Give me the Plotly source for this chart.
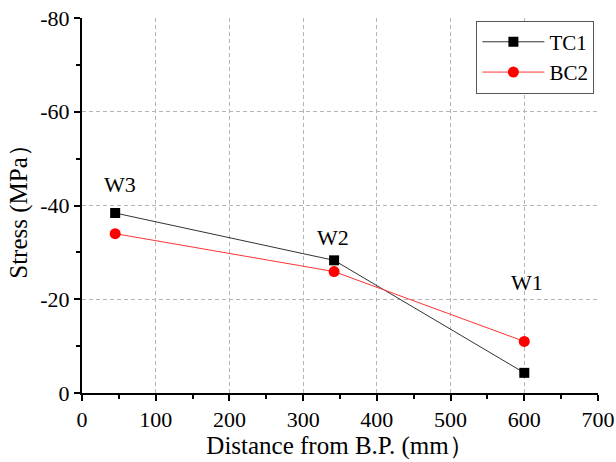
import plotly.graph_objects as go

# Data
distance = [45, 342, 600]
tc1 = [-38.4, -28.3, -4.3]
bc2 = [-34.0, -25.9, -11.0]
labels = ["W3", "W2", "W1"]
label_x = [52, 341, 604]
label_y = [-44.4, -33.1, -23.5]
xticks = [0, 100, 200, 300, 400, 500, 600, 700]
yticks = [0, -20, -40, -60, -80]
yticktext = ["0", "-20", "-40", "-60", "-80"]

FONT = "Liberation Serif"

fig = go.Figure()
fig.add_trace(go.Scatter(
    x=distance, y=tc1, name="TC1", mode="lines+markers",
    line=dict(color="#333333", width=1),
    marker=dict(symbol="square", size=10, color="black"),
))
fig.add_trace(go.Scatter(
    x=distance, y=bc2, name="BC2", mode="lines+markers",
    line=dict(color="#ff3333", width=1),
    marker=dict(symbol="circle", size=11, color="#ff0000"),
))

for t, xx, yy in zip(labels, label_x, label_y):
    fig.add_annotation(x=xx, y=yy, text=t, showarrow=False,
                       font=dict(family=FONT, size=22, color="black"),
                       xanchor="center", yanchor="middle")

grid = dict(showgrid=True, gridcolor="#b4b4b4", griddash="4px,3px", gridwidth=1)

fig.update_xaxes(
    range=[0, 700], tickvals=xticks, ticktext=[str(v) for v in xticks],
    showline=True, linecolor="black", linewidth=2,
    ticks="outside", ticklen=6, tickwidth=2, tickcolor="black",
    minor=dict(dtick=50, tick0=0, ticks="outside", ticklen=4, tickwidth=2,
               tickcolor="black", showgrid=False),
    tickfont=dict(family=FONT, size=22, color="black"),
    ticklabeloverflow="allow",
    title=dict(text="Distance from B.P. (mm\uff09",
               font=dict(family=FONT, size=25, color="black"), standoff=4),
    zeroline=False, automargin=False, **grid,
)
fig.update_yaxes(
    range=[0, -80], tickvals=yticks, ticktext=yticktext,
    showline=True, linecolor="black", linewidth=2,
    ticks="outside", ticklen=6, tickwidth=2, tickcolor="black",
    minor=dict(dtick=10, tick0=0, ticks="outside", ticklen=4, tickwidth=2,
               tickcolor="black", showgrid=False),
    tickfont=dict(family=FONT, size=22, color="black"),
    ticklabeloverflow="allow",
    title=dict(text="Stress (MPa\uff09",
               font=dict(family=FONT, size=25, color="black"), standoff=6),
    zeroline=False, automargin=False, **grid,
)

fig.update_layout(
    width=616, height=462,
    margin=dict(l=82, r=18, t=18, b=69),
    plot_bgcolor="white", paper_bgcolor="white",
    font=dict(family=FONT, color="black"),
    legend=dict(x=0.993, y=0.993, xanchor="right", yanchor="top",
                bordercolor="#555555", borderwidth=1, bgcolor="white",
                font=dict(family=FONT, size=21, color="black"),
                itemwidth=62, tracegroupgap=0),
    showlegend=True,
)

# remove the page's default body margin so the figure fills the window exactly
fig.write_html("out.html", post_script="document.body.style.margin='0';",
               config={"displayModeBar": False})
